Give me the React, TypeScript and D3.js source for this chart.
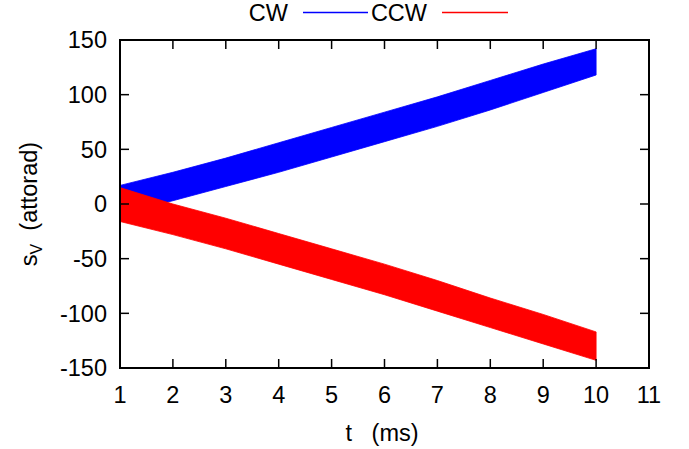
import React from 'react';
import * as d3 from 'd3';

// band edges at each whole millisecond
const tValues = [1, 2, 3, 4, 5, 6, 7, 8, 9, 10];
const cwHigh = [17, 29, 42, 56, 70, 84, 98, 113, 128, 142];
const cwLow = [-9, 3, 16, 29, 43, 57, 71, 86, 102, 118];
const ccwHigh = [15, 0, -13, -27, -41, -55, -70, -86, -101, -117];
const ccwLow = [-16, -28, -41, -55, -69, -83, -98, -113, -128, -143];

const xTicks = [1, 2, 3, 4, 5, 6, 7, 8, 9, 10, 11];
const yTicks = [-150, -100, -50, 0, 50, 100, 150];

const W = 689;
const H = 449;
const margin = { top: 40, right: 40, bottom: 81, left: 120 };
const font = 'Liberation Sans, Arial, Helvetica, sans-serif';
const fs = 23.5;

const App: React.FC = () => {
  const x = d3.scaleLinear().domain([1, 11]).range([margin.left, W - margin.right]);
  const y = d3.scaleLinear().domain([-150, 150]).range([H - margin.bottom, margin.top]);

  const band = (lo: number[], hi: number[]) =>
    d3.area<number>()
      .x((_, i) => x(tValues[i]))
      .y0((_, i) => y(lo[i]))
      .y1((_, i) => y(hi[i]))(tValues) ?? '';

  const [x0, x1] = x.range();
  const [y0, y1] = y.range(); // y0 bottom, y1 top
  const tick = 9;

  return (
    <svg width={W} height={H} style={{ position: 'absolute', left: 0, top: 0, background: '#fff' }}
      fontFamily={font}>
      {/* bands */}
      <path d={band(cwLow, cwHigh)} fill="#0000ff" stroke="#0000ff" strokeWidth={0.8} />
      <path d={band(ccwLow, ccwHigh)} fill="#ff0000" stroke="#ff0000" strokeWidth={0.8} />

      {/* ticks, mirrored on all sides */}
      {xTicks.map(t => (
        <g key={'x' + t}>
          <line x1={x(t)} x2={x(t)} y1={y0} y2={y0 - tick} stroke="#000" strokeWidth={1.5} />
          <line x1={x(t)} x2={x(t)} y1={y1} y2={y1 + tick} stroke="#000" strokeWidth={1.5} />
          <text x={x(t)} y={403} fontSize={fs} textAnchor="middle">{t}</text>
        </g>
      ))}
      {yTicks.map(v => (
        <g key={'y' + v}>
          <line x1={x0} x2={x0 + tick} y1={y(v)} y2={y(v)} stroke="#000" strokeWidth={1.5} />
          <line x1={x1} x2={x1 - tick} y1={y(v)} y2={y(v)} stroke="#000" strokeWidth={1.5} />
          <text x={107} y={y(v)} dy="0.36em" fontSize={fs} textAnchor="end">{v}</text>
        </g>
      ))}

      {/* frame */}
      <rect x={x0} y={y1} width={x1 - x0} height={y0 - y1} fill="none" stroke="#000" strokeWidth={2} />

      {/* axis titles */}
      <text x={382} y={441} fontSize={fs} textAnchor="middle" xmlSpace="preserve">t   (ms)</text>
      <text transform={`translate(37,${(y0 + y1) / 2}) rotate(-90)`} fontSize={fs} textAnchor="middle"
        xmlSpace="preserve">
        s<tspan fontSize={16} dy={5}>V</tspan><tspan dy={-5}>  (attorad)</tspan>
      </text>

      {/* legend */}
      <text x={288} y={21} fontSize={fs} textAnchor="end">CW</text>
      <line x1={303} x2={368} y1={12.5} y2={12.5} stroke="#0000ff" strokeWidth={1.5} />
      <text x={427} y={21} fontSize={fs} textAnchor="end">CCW</text>
      <line x1={442} x2={508} y1={12.5} y2={12.5} stroke="#ff0000" strokeWidth={1.5} />
    </svg>
  );
};

export default App;
